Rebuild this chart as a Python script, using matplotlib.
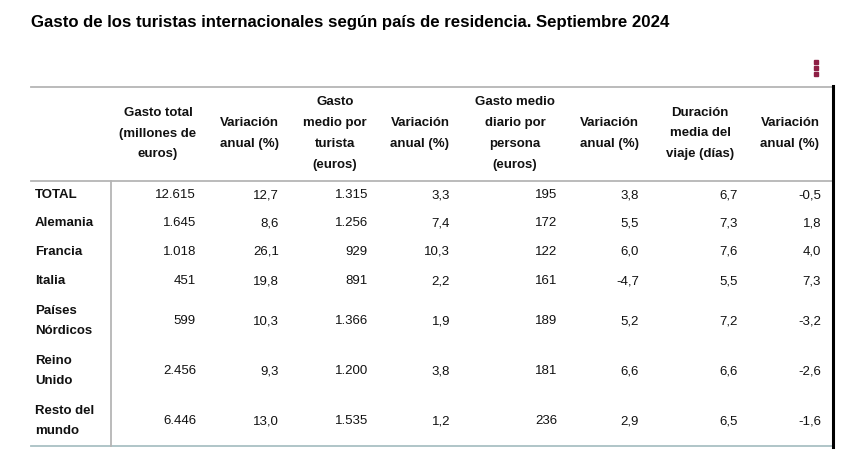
import matplotlib
matplotlib.use("Agg")
import matplotlib.pyplot as plt

plt.rcParams['font.family'] = ['Liberation Sans', 'DejaVu Sans']

title = "Gasto de los turistas internacionales según país de residencia. Septiembre 2024"

headers = [
    "Gasto total\n(millones de\neuros)",
    "Variación\nanual (%)",
    "Gasto\nmedio por\nturista\n(euros)",
    "Variación\nanual (%)",
    "Gasto medio\ndiario por\npersona\n(euros)",
    "Variación\nanual (%)",
    "Duración\nmedia del\nviaje (días)",
    "Variación\nanual (%)",
]

countries = ["TOTAL", "Alemania", "Francia", "Italia",
             "Países\nNórdicos", "Reino\nUnido", "Resto del\nmundo"]

gasto_total = ["12.615", "1.645", "1.018", "451", "599", "2.456", "6.446"]
var_gasto_total = ["12,7", "8,6", "26,1", "19,8", "10,3", "9,3", "13,0"]
gasto_medio = ["1.315", "1.256", "929", "891", "1.366", "1.200", "1.535"]
var_gasto_medio = ["3,3", "7,4", "10,3", "2,2", "1,9", "3,8", "1,2"]
gasto_diario = ["195", "172", "122", "161", "189", "181", "236"]
var_gasto_diario = ["3,8", "5,5", "6,0", "-4,7", "5,2", "6,6", "2,9"]
duracion = ["6,7", "7,3", "7,6", "5,5", "7,2", "6,6", "6,5"]
var_duracion = ["-0,5", "1,8", "4,0", "7,3", "-3,2", "-2,6", "-1,6"]

columns = [gasto_total, var_gasto_total, gasto_medio, var_gasto_medio,
           gasto_diario, var_gasto_diario, duracion, var_duracion]

# layout in pixels
W, H = 852, 459
header_cx = [158, 249, 335, 420, 515, 609, 700, 790]
value_rx = [196, 279, 368, 450, 557, 639, 738, 821]
row_y = [195, 223, 252, 281, 321, 371, 421]
fs = 9.5
ls = 1.97

fig = plt.figure(figsize=(W / 100, H / 100), dpi=100)
ax = fig.add_axes([0, 0, 1, 1])
ax.set_xlim(0, W)
ax.set_ylim(H, 0)
ax.axis('off')

ax.text(31, 23, title, fontsize=12.05, fontweight='bold', va='center', ha='left')

# menu dots
ax.plot([815.5, 815.5, 815.5], [61.5, 67.5, 73.5], linestyle='none', marker='s',
        markersize=2.5, color='#8e1f45')

# rules
ax.plot([31, 833], [86.5, 86.5], color='#b5b5b5', lw=1.3)
ax.plot([31, 833], [181, 181], color='#b5b5b5', lw=1.3)
ax.plot([31, 833], [446, 446], color='#a9c0c4', lw=1.3)
ax.plot([110.5, 110.5], [181, 446], color='#b5b5b5', lw=1.3)
ax.plot([833, 833], [86, 446.5], color='black', lw=2.2)

for cx, h in zip(header_cx, headers):
    ax.text(cx, 133.5, h, fontsize=fs, fontweight='bold', ha='center',
            va='center', linespacing=ls, color='#111111')

for y, c in zip(row_y, countries):
    ax.text(35, y, c, fontsize=fs, fontweight='bold', ha='left', va='center',
            linespacing=ls, color='#111111')

for rx, col in zip(value_rx, columns):
    for y, v in zip(row_y, col):
        ax.text(rx, y, v, fontsize=fs, ha='right', va='center', color='#111111')

fig.savefig("out.png", dpi=100)
